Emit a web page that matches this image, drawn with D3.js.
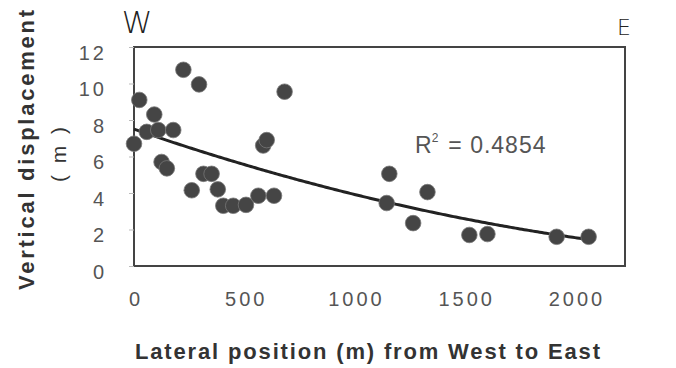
<!DOCTYPE html>
<html>
<head>
<meta charset="utf-8">
<script src="https://cdn.jsdelivr.net/npm/d3@7"></script>
<style>
  body { margin: 0; background: #fff; }
  svg { display: block; }
</style>
</head>
<body>
<svg id="chart"></svg>
<script>
// lateral position (m) and vertical displacement (m)
const lateralPos = [0, 24, 92, 58, 110, 178, 224, 295, 125, 149, 315, 352, 262, 380, 405, 450,
  508, 564, 635, 586, 602, 683, 1158, 1146, 1331, 1266, 1521, 1603, 1917, 2062];
const vertDisp = [6.7, 9.1, 8.3, 7.35, 7.45, 7.45, 10.75, 9.95, 5.7, 5.35, 5.05, 5.05, 4.15, 4.2, 3.3, 3.3,
  3.35, 3.85, 3.85, 6.6, 6.9, 9.55, 5.05, 3.45, 4.05, 2.35, 1.7, 1.75, 1.6, 1.6];
const xTicks = [0, 500, 1000, 1500, 2000];
const yTicks = [0, 2, 4, 6, 8, 10, 12];
const r2Label = "0.4854";

const points = lateralPos.map((x, i) => ({ x: x, y: vertDisp[i] }));

const svg = d3.select("#chart")
  .attr("width", 676)
  .attr("height", 368);

const margin = { top: 47, right: 51, bottom: 102, left: 134 };
const width = +svg.attr("width") - margin.left - margin.right;
const height = +svg.attr("height") - margin.top - margin.bottom;

const g = svg.append("g")
  .attr("transform", `translate(${margin.left},${margin.top})`);

// axis labels in the scan sit at 0..2000 but the frame runs a bit further
const x = d3.scaleLinear()
  .domain([0, 2227])
  .range([0, width]);

const y = d3.scaleLinear()
  .domain([0, 12])
  .range([height, 0]);

// quadratic least squares trend (Excel polynomial order 2)
function quadFit(pts) {
  let s = [0, 0, 0, 0, 0], t = [0, 0, 0];
  pts.forEach(p => {
    for (let k = 0; k < 5; k++) s[k] += Math.pow(p.x, k);
    for (let k = 0; k < 3; k++) t[k] += p.y * Math.pow(p.x, k);
  });
  const m = [[s[0], s[1], s[2], t[0]], [s[1], s[2], s[3], t[1]], [s[2], s[3], s[4], t[2]]];
  for (let i = 0; i < 3; i++) {
    for (let j = i + 1; j < 3; j++) {
      const f = m[j][i] / m[i][i];
      for (let k = i; k < 4; k++) m[j][k] -= f * m[i][k];
    }
  }
  const c = [0, 0, 0];
  for (let i = 2; i >= 0; i--) {
    let v = m[i][3];
    for (let k = i + 1; k < 3; k++) v -= m[i][k] * c[k];
    c[i] = v / m[i][i];
  }
  return c;
}
const coef = quadFit(points);
const xMax = d3.max(lateralPos);
const trend = d3.range(0, xMax + 1, 10).concat([xMax])
  .map(v => ({ x: v, y: coef[0] + coef[1] * v + coef[2] * v * v }));

const font = "Liberation Sans, Arial, sans-serif";

// frame
g.append("rect")
  .attr("width", width)
  .attr("height", height)
  .attr("fill", "none")
  .attr("stroke", "#444")
  .attr("stroke-width", 2);

const yAxis = g.append("g")
  .call(d3.axisLeft(y).tickValues(yTicks).tickSize(5).tickPadding(22).tickFormat(d3.format("d")));
yAxis.select(".domain").remove();
yAxis.selectAll(".tick line").attr("stroke", "#bbb");
yAxis.selectAll("text")
  .attr("font-family", font)
  .attr("font-size", 20)
  .attr("dy", "0.62em")
  .attr("letter-spacing", 3)
  .attr("fill", "#555");

const xAxis = g.append("g")
  .attr("transform", `translate(0,${height})`)
  .call(d3.axisBottom(x).tickValues(xTicks).tickSize(0).tickPadding(26).tickFormat(d3.format("d")));
xAxis.select(".domain").remove();
xAxis.selectAll("text")
  .attr("font-family", font)
  .attr("font-size", 20)
  .attr("letter-spacing", 3)
  .attr("dx", 1.5)
  .attr("fill", "#555");

g.append("path")
  .datum(trend)
  .attr("fill", "none")
  .attr("stroke", "#222")
  .attr("stroke-width", 3)
  .attr("d", d3.line().x(d => x(d.x)).y(d => y(d.y)));

g.selectAll("circle")
  .data(points)
  .enter().append("circle")
  .attr("cx", d => x(d.x))
  .attr("cy", d => y(d.y))
  .attr("r", 7.8)
  .attr("fill", "#454545")
  .attr("stroke", "#777")
  .attr("stroke-width", 0.8);

// R squared label
const r2 = svg.append("text")
  .attr("x", 415)
  .attr("y", 153)
  .attr("font-family", font)
  .attr("font-size", 23)
  .attr("fill", "#555");
r2.append("tspan").text("R");
r2.append("tspan").attr("dy", -11).attr("font-size", 12).text("2");
r2.append("tspan").attr("dy", 11).attr("dx", 10)
  .attr("letter-spacing", 1)
  .text("= " + r2Label);

// W / E markers
svg.append("text")
  .attr("x", 137).attr("y", 33)
  .attr("text-anchor", "middle")
  .attr("font-family", "DejaVu Sans, sans-serif")
  .attr("font-size", 31)
  .attr("font-weight", 200)
  .attr("fill", "#222")
  .text("W");
svg.append("text")
  .attr("x", 624).attr("y", 35)
  .attr("text-anchor", "middle")
  .attr("font-family", "DejaVu Sans, sans-serif")
  .attr("font-size", 22)
  .attr("font-weight", 200)
  .attr("fill", "#222")
  .text("E");

// axis titles
svg.append("text")
  .attr("x", 135).attr("y", 359)
  .attr("font-family", font)
  .attr("font-size", 22)
  .attr("font-weight", "bold")
  .attr("textLength", 465)
  .attr("lengthAdjust", "spacing")
  .attr("fill", "#333")
  .text("Lateral position (m) from West to East");

svg.append("text")
  .attr("transform", "translate(34,290) rotate(-90)")
  .attr("font-family", font)
  .attr("font-size", 22)
  .attr("font-weight", "bold")
  .attr("textLength", 280)
  .attr("lengthAdjust", "spacing")
  .attr("fill", "#333")
  .text("Vertical displacement");

svg.append("text")
  .attr("transform", "translate(66,182) rotate(-90)")
  .attr("font-family", font)
  .attr("font-size", 21)
  .attr("textLength", 55)
  .attr("lengthAdjust", "spacing")
  .attr("fill", "#333")
  .text("(m)");
</script>
</body>
</html>
